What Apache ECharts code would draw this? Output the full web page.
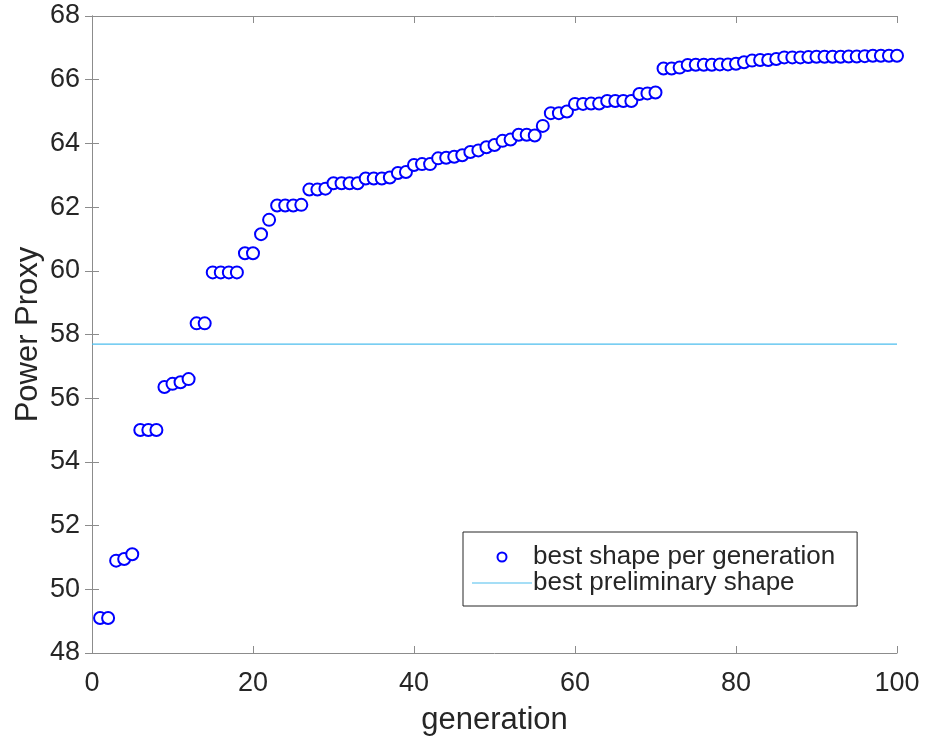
<!DOCTYPE html>
<html>
<head>
<meta charset="utf-8">
<title>Power Proxy by generation</title>
<script src="https://cdn.jsdelivr.net/npm/echarts@6/dist/echarts.min.js"></script>
<style>
  html, body { margin: 0; padding: 0; background: #fff; }
  #chart { width: 926px; height: 738px; }
</style>
</head>
<body>
<div id="chart"></div>
<script>
// Best Power Proxy found in each generation of the shape search
const generations = Array.from({ length: 100 }, (_, i) => i + 1);
const bestPerGeneration = [
  49.10, 49.10, 50.90, 50.95, 51.10, 55.00, 55.00, 55.00, 56.35, 56.45,
  56.50, 56.60, 58.35, 58.35, 59.95, 59.95, 59.95, 59.95, 60.55, 60.55,
  61.15, 61.60, 62.05, 62.05, 62.05, 62.07, 62.55, 62.55, 62.58, 62.75,
  62.75, 62.75, 62.75, 62.90, 62.90, 62.90, 62.93, 63.07, 63.10, 63.32,
  63.35, 63.35, 63.53, 63.55, 63.58, 63.63, 63.73, 63.78, 63.88, 63.95,
  64.08, 64.12, 64.27, 64.27, 64.25, 64.55, 64.95, 64.95, 65.00, 65.24,
  65.24, 65.25, 65.25, 65.33, 65.33, 65.33, 65.33, 65.55, 65.57, 65.60,
  66.35, 66.35, 66.38, 66.46, 66.47, 66.47, 66.47, 66.48, 66.48, 66.50,
  66.55, 66.60, 66.62, 66.62, 66.65, 66.70, 66.70, 66.70, 66.71, 66.72,
  66.72, 66.72, 66.72, 66.73, 66.73, 66.74, 66.75, 66.75, 66.75, 66.75
];
// Reference value: best preliminary shape
const preliminaryBest = 57.7;
const xRange = [0, 100];
const yRange = [48, 68];

const seriesNames = ['best shape per generation', 'best preliminary shape'];
const axisTitles = { x: 'generation', y: 'Power Proxy' };

const FONT = 'Liberation Sans, Arial, Helvetica, sans-serif';
const TEXT = '#262626';
const AXIS = '#8c8c8c';
const MARKER = '#0000ff';
const REF_LINE = '#4dbeee';

const chart = echarts.init(document.getElementById('chart'), null, { renderer: 'canvas' });

// Boxed frame: every side carries inward ticks, only bottom/left carry labels
const frameAxis = (pos, show) => ({
  position: pos,
  axisLine: { show: true, lineStyle: { color: AXIS, width: 1 } },
  axisTick: { show: true, inside: true, length: 7, lineStyle: { color: AXIS, width: 1 } },
  axisLabel: { show: show, color: TEXT, fontSize: 27, fontFamily: FONT },
  splitLine: { show: false }
});

chart.setOption({
  backgroundColor: '#ffffff',
  animation: false,
  grid: { left: 92, right: 29, top: 16, bottom: 85, containLabel: false, outerBoundsMode: 'none' },
  xAxis: [
    Object.assign(frameAxis('bottom', true), {
      type: 'value', min: xRange[0], max: xRange[1], interval: 20,
      name: axisTitles.x, nameLocation: 'middle', nameGap: 52, nameMoveOverlap: false,
      nameTextStyle: { color: TEXT, fontSize: 31, fontFamily: FONT },
      axisLabel: { show: true, color: TEXT, fontSize: 27, fontFamily: FONT, margin: 17 }
    }),
    Object.assign(frameAxis('top', false), {
      type: 'value', min: xRange[0], max: xRange[1], interval: 20
    })
  ],
  yAxis: [
    Object.assign(frameAxis('left', true), {
      type: 'value', min: yRange[0], max: yRange[1], interval: 2,
      name: axisTitles.y, nameLocation: 'middle', nameGap: 48, nameMoveOverlap: false,
      nameTextStyle: { color: TEXT, fontSize: 31, fontFamily: FONT },
      axisLabel: { show: true, color: TEXT, fontSize: 27, fontFamily: FONT, margin: 12 }
    }),
    Object.assign(frameAxis('right', false), {
      type: 'value', min: yRange[0], max: yRange[1], interval: 2
    })
  ],
  legend: {
    data: [
      { name: seriesNames[0], icon: 'emptyCircle', itemStyle: { color: MARKER, borderColor: MARKER, borderWidth: 1.5, opacity: 1 } },
      { name: seriesNames[1], icon: 'path://M0,0 L60,0 L60,1 L0,1 Z', itemStyle: { color: REF_LINE } }
    ],
    orient: 'vertical',
    left: 463,
    top: 532,
    itemWidth: 60,
    itemHeight: 9,
    itemGap: 0,
    padding: [12, 22, 10, 9],
    borderColor: '#262626',
    borderWidth: 1,
    backgroundColor: '#ffffff',
    textStyle: { color: TEXT, fontSize: 26, lineHeight: 25, fontFamily: FONT, padding: [0, 0, 0, -4] }
  },
  series: [
    {
      name: seriesNames[0],
      type: 'scatter',
      xAxisIndex: 0,
      yAxisIndex: 0,
      symbol: 'emptyCircle',
      symbolSize: 12,
      color: MARKER,
      itemStyle: { color: MARKER, borderColor: MARKER, borderWidth: 1.4, opacity: 1 },
      data: generations.map((g, i) => [g, bestPerGeneration[i]]),
      z: 3
    },
    {
      name: seriesNames[1],
      type: 'line',
      xAxisIndex: 0,
      yAxisIndex: 0,
      symbol: 'none',
      color: REF_LINE,
      lineStyle: { color: REF_LINE, width: 1.2 },
      data: [[xRange[0], preliminaryBest], [xRange[1], preliminaryBest]],
      z: 2
    }
  ]
});
</script>
</body>
</html>
